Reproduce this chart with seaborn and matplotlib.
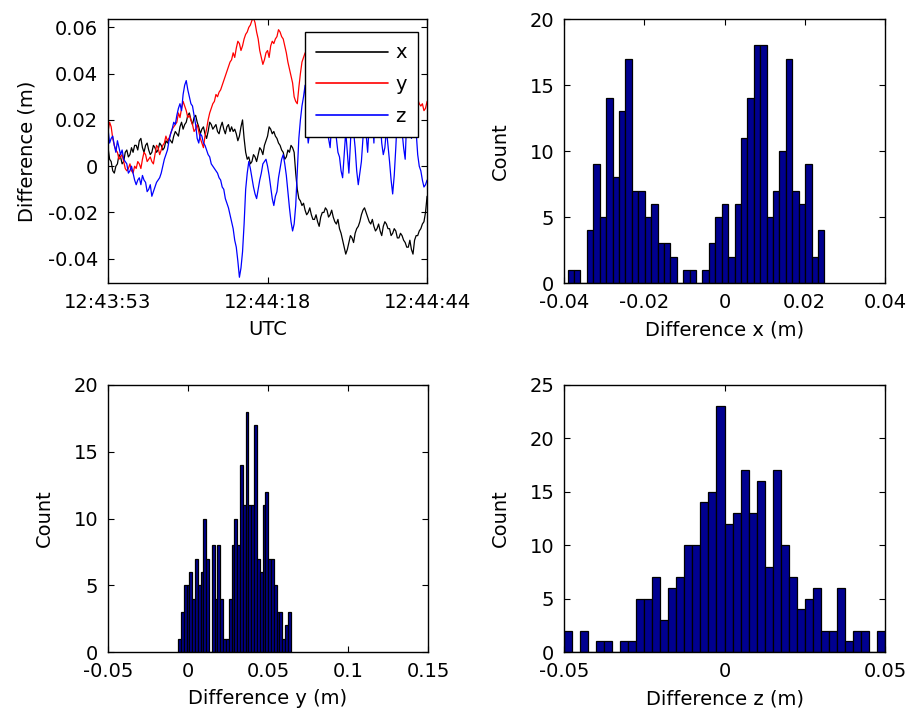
import numpy as np
import pandas as pd
import matplotlib
matplotlib.use("Agg")
import matplotlib.pyplot as plt
import seaborn as sns

# ---------------- data ----------------
sample_start_s = 0.0
sample_step_s = 0.25

diff_x_mm = [8, 3, 2, -2, -3, 0, 1, 5, 4, 1, 2, 6, 7, 4, 5, 8, 6, 9, 9, 7,
             11, 12, 8, 6, 9, 10, 7, 5, 6, 9, 8, 6, 7, 10, 9, 7, 8, 11, 10, 12,
             11, 10, 13, 15, 14, 13, 17, 19, 16, 18, 19, 22, 23, 20, 18, 21, 22, 19, 17, 14,
             16, 17, 14, 12, 15, 19, 18, 16, 17, 18, 15, 14, 17, 19, 16, 14, 17, 18, 15, 17,
             15, 16, 14, 11, 13, 17, 20, 12, 6, 3, 4, 1, 2, 5, 4, 2, 5, 8, 7, 5,
             9, 11, 13, 17, 16, 14, 15, 13, 12, 10, 9, 7, 6, 3, 4, 7, 6, 9, 8, 6,
             -3, -10, -14, -15, -17, -16, -19, -21, -20, -18, -21, -23, -23, -21, -24, -26, -22, -20, -20, -18,
             -19, -22, -21, -19, -22, -24, -25, -23, -27, -29, -32, -35, -38, -36, -33, -30, -31, -33, -29, -27,
             -26, -24, -21, -19, -18, -20, -22, -24, -25, -23, -26, -28, -27, -25, -28, -30, -26, -24, -25, -27,
             -27, -30, -29, -27, -28, -31, -31, -29, -30, -32, -33, -35, -35, -32, -36, -38, -32, -30, -30, -28,
             -27, -25, -24, -20, -13]
diff_y_mm = [15, 19, 17, 12, 9, 7, 6, 3, 4, 5, 2, -1, -2, -1, 1, -2, -3, 0, -1, 2,
             1, -1, 3, 6, 5, 2, 3, 4, 2, 1, 5, 9, 8, 5, 7, 9, 10, 13, 11, 12,
             14, 16, 17, 18, 19, 23, 21, 25, 28, 26, 24, 21, 22, 20, 18, 15, 16, 18, 15, 12,
             10, 8, 13, 16, 20, 23, 25, 27, 28, 31, 30, 32, 33, 35, 37, 39, 41, 43, 45, 46,
             49, 47, 51, 54, 53, 50, 52, 55, 57, 58, 60, 61, 63, 64, 62, 58, 55, 50, 47, 44,
             46, 49, 50, 47, 52, 54, 53, 55, 56, 59, 58, 56, 55, 52, 49, 45, 42, 39, 36, 30,
             28, 27, 34, 40, 45, 47, 49, 48, 46, 45, 44, 48, 47, 45, 42, 41, 40, 42, 43, 46,
             45, 43, 41, 39, 38, 41, 40, 43, 42, 40, 39, 37, 36, 39, 38, 41, 40, 38, 37, 36,
             35, 37, 38, 36, 36, 34, 33, 36, 35, 38, 37, 35, 34, 32, 31, 34, 33, 36, 35, 33,
             32, 31, 30, 32, 33, 30, 31, 28, 29, 31, 32, 29, 30, 27, 28, 30, 31, 28, 29, 27,
             26, 27, 24, 25, 28]
diff_z_mm = [16, 10, 12, 13, 9, 6, 11, 8, 5, 7, 3, 2, 1, -3, -2, 0, -3, -6, -8, -6,
             -5, -8, -4, -6, -7, -11, -10, -8, -13, -11, -9, -7, -6, -5, -3, 0, 3, 5, 7, 11,
             14, 16, 19, 18, 22, 25, 27, 24, 31, 35, 37, 33, 30, 27, 26, 22, 18, 12, 10, 14,
             13, 10, 9, 7, 5, 4, 1, 0, -1, -2, -3, -5, -6, -9, -10, -14, -16, -18, -21, -24,
             -27, -32, -35, -41, -48, -44, -37, -25, -10, -3, 2, -1, -5, -9, -12, -14, -10, -6, -3, 1,
             2, 3, 0, -4, -9, -14, -17, -13, -11, -5, -1, 3, 5, 1, -4, -11, -18, -24, -28, -25,
             -17, -2, 12, 20, 26, 30, 35, 18, 10, 15, 22, 33, 40, 28, 18, 24, 30, 38, 45, 30,
             20, 12, 8, 18, 28, 20, 12, 6, 4, -2, -5, 5, 15, 6, -3, 10, 25, 15, 8, -2,
             -8, -3, 2, 12, 20, 14, 6, 18, 30, 22, 10, 30, 48, 35, 20, 10, 5, 8, 16, 9,
             2, -6, -12, -4, 8, 22, 35, 25, 15, 8, 3, 20, 38, 24, 12, 18, 25, 15, 5, 0,
             -2, -6, -9, -8, -6]

series_names = ["x", "y", "z"]
series_colors = ["#000000", "#ff0000", "#0000ff"]

time_tick_s = [0.0, 25.5, 51.0]
time_tick_labels = ["12:43:53", "12:44:18", "12:44:44"]
diff_ticks = [-0.04, -0.02, 0.0, 0.02, 0.04, 0.06]
diff_tick_labels = ["-0.04", "-0.02", "0", "0.02", "0.04", "0.06"]

hist_x_start = -0.0391
hist_x_width = 0.0016
hist_x_counts = [1, 1, 0, 4, 9, 5, 14, 8, 13, 17,
                 7, 7, 5, 6, 3, 3, 2, 0, 1, 1,
                 0, 1, 3, 5, 6, 2, 6, 11, 14, 18,
                 18, 5, 7, 10, 17, 7, 6, 9, 2, 4]
hist_y_start = -0.00625
hist_y_width = 0.00176
hist_y_counts = [1, 3, 5, 5, 6, 4, 7, 5, 6, 10,
                 7, 0, 8, 4, 8, 4, 1, 1, 4, 8,
                 10, 8, 14, 11, 18, 11, 11, 17, 7, 6,
                 11, 12, 7, 7, 5, 3, 3, 1, 2, 3]
hist_z_start = -0.05
hist_z_width = 0.0025
hist_z_counts = [2, 0, 2, 0, 1, 1, 0, 1, 1, 5,
                 5, 7, 3, 6, 7, 10, 10, 14, 15, 23,
                 12, 13, 17, 13, 16, 8, 17, 10, 7, 4,
                 5, 6, 2, 2, 6, 1, 2, 2, 0, 2]

hx_ticks = [-0.04, -0.02, 0.0, 0.02, 0.04]
hx_labels = ["-0.04", "-0.02", "0", "0.02", "0.04"]
hy_ticks = [-0.05, 0.0, 0.05, 0.1, 0.15]
hy_labels = ["-0.05", "0", "0.05", "0.1", "0.15"]
hz_ticks = [-0.05, 0.0, 0.05]
hz_labels = ["-0.05", "0", "0.05"]
count20_ticks = [0, 5, 10, 15, 20]
count25_ticks = [0, 5, 10, 15, 20, 25]

# ---------------- style ----------------
sns.set_theme(style="ticks")
plt.rcParams.update({
    "font.size": 14,
    "axes.labelsize": 14,
    "xtick.labelsize": 14,
    "ytick.labelsize": 14,
    "legend.fontsize": 14,
    "text.color": "black",
    "axes.labelcolor": "black",
    "xtick.color": "black",
    "ytick.color": "black",
    "axes.edgecolor": "black",
    "axes.linewidth": 1.0,
    "axes.unicode_minus": False,
    "figure.facecolor": "white",
    "axes.facecolor": "white",
})
plt.rcParams["font.family"] = ["DejaVu Sans"]

fig = plt.figure(figsize=(9.11, 7.18), dpi=100)
ax_ts = fig.add_axes([0.1186, 0.6058, 0.3502, 0.3677])
ax_hx = fig.add_axes([0.6191, 0.6058, 0.3524, 0.3677])
ax_hy = fig.add_axes([0.1186, 0.0919, 0.3513, 0.3719])
ax_hz = fig.add_axes([0.6191, 0.0919, 0.3524, 0.3719])


def matlab_axes(ax):
    for s in ax.spines.values():
        s.set_visible(True)
        s.set_color("black")
        s.set_linewidth(1.0)
    ax.tick_params(direction="in", top=True, right=True, length=4, width=0.8,
                   pad=7, colors="black", labelsize=14)


# ---------------- time series ----------------
t = sample_start_s + sample_step_s * np.arange(len(diff_x_mm))
df = pd.DataFrame({
    "t": np.tile(t, 3),
    "value": np.concatenate([diff_x_mm, diff_y_mm, diff_z_mm]) / 1000.0,
    "series": np.repeat(series_names, len(t)),
})
sns.lineplot(data=df, x="t", y="value", hue="series",
             palette=dict(zip(series_names, series_colors)),
             linewidth=0.9, estimator=None, sort=False, ax=ax_ts)
ax_ts.set_xlim(0, 51)
ax_ts.set_ylim(-0.0505, 0.0636)
ax_ts.set_xticks(time_tick_s)
ax_ts.set_xticklabels(time_tick_labels)
ax_ts.set_yticks(diff_ticks)
ax_ts.set_yticklabels(diff_tick_labels)
ax_ts.set_xlabel("UTC", labelpad=6)
ax_ts.set_ylabel("Difference (m)", labelpad=8)
matlab_axes(ax_ts)
h, l = ax_ts.get_legend_handles_labels()
leg = ax_ts.legend(h, l, loc="upper right", bbox_to_anchor=(0.972, 0.952),
                   frameon=True, fancybox=False, edgecolor="black", framealpha=1,
                   handlelength=3.7, labelspacing=0.65, borderpad=0.6,
                   handletextpad=0.35, borderaxespad=0.0, fontsize=14)
leg.get_frame().set_linewidth(1.0)
for ln in leg.get_lines():
    ln.set_linewidth(1.2)

# ---------------- histograms ----------------
navy = "#000090"


def draw_hist(ax, start, width, counts, xlim, xticks, xlabels, ylim, yticks, xlabel):
    n = len(counts)
    centers = start + width * (np.arange(n) + 0.5)
    dfh = pd.DataFrame({"center": centers, "count": np.asarray(counts, dtype=float)})
    sns.histplot(data=dfh, x="center", weights="count", binwidth=width,
                 binrange=(start, start + n * width), color=navy,
                 edgecolor="black", linewidth=0.9, alpha=1.0, ax=ax)
    ax.set_xlim(*xlim)
    ax.set_ylim(*ylim)
    ax.set_xticks(xticks)
    ax.set_xticklabels(xlabels)
    ax.set_yticks(yticks)
    ax.set_yticklabels([str(v) for v in yticks])
    ax.set_xlabel(xlabel, labelpad=6)
    ax.set_ylabel("Count", labelpad=14)
    matlab_axes(ax)


draw_hist(ax_hx, hist_x_start, hist_x_width, hist_x_counts, (-0.04, 0.04),
          hx_ticks, hx_labels, (0, 20), count20_ticks, "Difference x (m)")
draw_hist(ax_hy, hist_y_start, hist_y_width, hist_y_counts, (-0.05, 0.15),
          hy_ticks, hy_labels, (0, 20), count20_ticks, "Difference y (m)")
draw_hist(ax_hz, hist_z_start, hist_z_width, hist_z_counts, (-0.05, 0.05),
          hz_ticks, hz_labels, (0, 25), count25_ticks, "Difference z (m)")

fig.savefig("out.png", dpi=100, facecolor="white")
